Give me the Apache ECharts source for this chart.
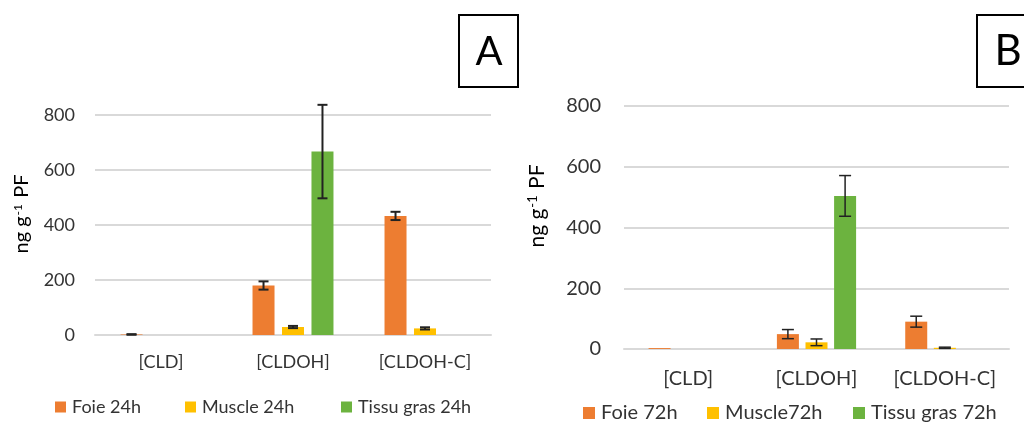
<!DOCTYPE html>
<html><head><meta charset="utf-8">
<script src="https://cdn.jsdelivr.net/npm/echarts@6/dist/echarts.min.js"></script>
<style>html,body{margin:0;padding:0;background:#fff}#c{width:1024px;height:422px}</style>
</head><body><div id="c"></div>
<script>
var categories = ['[CLD]', '[CLDOH]', '[CLDOH-C]'];
var yTicks = [0, 200, 400, 600, 800];
var namesA = ['Foie 24h', 'Muscle 24h', 'Tissu gras 24h'];
var namesB = ['Foie 72h', 'Muscle72h', 'Tissu gras 72h'];
var foie24 = [2, 180, 433];
var foie24Err = [1, 15, 15];
var muscle24 = [0, 29, 24];
var muscle24Err = [0, 4, 4];
var tissu24 = [0, 667, 0];
var tissu24Err = [0, 170, 0];
var foie72 = [3, 49, 90];
var foie72Err = [0, 15, 18];
var muscle72 = [0, 22, 4];
var muscle72Err = [0, 11, 2];
var tissu72 = [0, 504, 0];
var tissu72Err = [0, 67, 0];

var colors = ['#ED7D31', '#FFC000', '#6CB33F'];
var FONT = 'Lato, "Open Sans", sans-serif';
var TXT = '#333333';

function errSeries(grid, vals, errs, idx, bw, gapRatio, capW, lw) {
  var data = vals.map(function (v, i) { return [i, v, errs[i]]; });
  return {
    type: 'custom', xAxisIndex: grid, yAxisIndex: grid, z: 10, silent: true,
    data: data,
    renderItem: function (params, api) {
      var e = api.value(2);
      if (!e) return null;
      var c = api.value(0), v = api.value(1);
      var off = (bw + bw * gapRatio) * (idx - 1);
      var hi = api.coord([c, v + e]);
      var lo = api.coord([c, Math.max(v - e, 0)]);
      var x = hi[0] + off;
      var st = { stroke: '#222', lineWidth: lw };
      return { type: 'group', children: [
        { type: 'line', shape: { x1: x, y1: hi[1], x2: x, y2: lo[1] }, style: st },
        { type: 'line', shape: { x1: x - capW / 2, y1: hi[1], x2: x + capW / 2, y2: hi[1] }, style: st },
        { type: 'line', shape: { x1: x - capW / 2, y1: lo[1], x2: x + capW / 2, y2: lo[1] }, style: st }
      ]};
    }
  };
}

function barSeries(grid, name, vals, color, bw, gap) {
  return { type: 'bar', name: name, xAxisIndex: grid, yAxisIndex: grid, data: vals,
    barWidth: bw, barGap: gap, itemStyle: { color: color }, emphasis: { disabled: true } };
}

function legend(name, left, top, fs, sz) {
  return { data: [name], left: left, top: top, icon: 'rect', itemWidth: sz, itemHeight: sz,
    itemGap: 0, padding: 0, selectedMode: false,
    textStyle: { fontFamily: FONT, fontSize: fs, color: TXT, padding: [0, 0, 0, 1] } };
}

function xAx(grid, fs, margin) {
  return { type: 'category', gridIndex: grid, data: categories,
    axisLine: { lineStyle: { color: '#D9D9D9', width: 2 } }, axisTick: { show: false },
    axisLabel: { fontFamily: FONT, fontSize: fs, color: TXT, margin: margin, interval: 0, hideOverlap: false } };
}
function yAx(grid, fs, margin) {
  return { type: 'value', gridIndex: grid, min: yTicks[0], max: yTicks[yTicks.length - 1],
    interval: yTicks[1] - yTicks[0],
    axisLine: { show: false }, axisTick: { show: false },
    splitLine: { lineStyle: { color: '#D9D9D9', width: 2 } },
    axisLabel: { fontFamily: FONT, fontSize: fs, color: TXT, margin: margin } };
}

var chart = echarts.init(document.getElementById('c'));
var A_BW = 22, A_GAP = 0.34, B_BW = 22, B_GAP = 0.30;
chart.setOption({
  backgroundColor: '#fff',
  animation: false,
  grid: [
    { left: 95, right: 533, top: 115, bottom: 87 },
    { left: 624, right: 15, top: 106, bottom: 73 }
  ],
  xAxis: [xAx(0, 18, 18), xAx(1, 20, 20)],
  yAxis: [yAx(0, 18, 20), yAx(1, 20, 23)],
  legend: [
    legend(namesA[0], 55, 398, 18, 11),
    legend(namesA[1], 185, 398, 18, 11),
    legend(namesA[2], 341, 398, 18, 11),
    legend(namesB[0], 583, 403, 20, 12),
    legend(namesB[1], 707, 403, 20, 12),
    legend(namesB[2], 853, 403, 20, 12)
  ],
  graphic: [
    { type: 'rect', shape: { x: 459, y: 15, width: 59, height: 72 }, style: { fill: '#fff', stroke: '#000', lineWidth: 2 } },
    { type: 'text', x: 489, y: 52, style: { text: 'A', font: '40px ' + FONT, fill: '#000', align: 'center', verticalAlign: 'middle' } },
    { type: 'rect', shape: { x: 977, y: 15, width: 60, height: 72 }, style: { fill: '#fff', stroke: '#000', lineWidth: 2 } },
    { type: 'text', x: 1008, y: 51, style: { text: 'B', font: '42px ' + FONT, fill: '#000', align: 'center', verticalAlign: 'middle' } },
    { type: 'text', x: 22, y: 214, rotation: Math.PI / 2,
      style: { text: 'ng g{sup|-1} PF', font: '20px ' + FONT, fill: '#000', align: 'center', verticalAlign: 'middle',
        rich: { sup: { fontSize: 12, fontFamily: FONT, verticalAlign: 'top', fill: '#000', padding: [0, 1, 8, 1] } } } },
    { type: 'text', x: 537, y: 206, rotation: Math.PI / 2,
      style: { text: 'ng g{sup|-1} PF', font: '21px ' + FONT, fill: '#000', align: 'center', verticalAlign: 'middle',
        rich: { sup: { fontSize: 13, fontFamily: FONT, verticalAlign: 'top', fill: '#000', padding: [0, 1, 9, 1] } } } }
  ],
  series: [
    barSeries(0, namesA[0], foie24, colors[0], A_BW, '34%'),
    barSeries(0, namesA[1], muscle24, colors[1], A_BW, '34%'),
    barSeries(0, namesA[2], tissu24, colors[2], A_BW, '34%'),
    barSeries(1, namesB[0], foie72, colors[0], B_BW, '30%'),
    barSeries(1, namesB[1], muscle72, colors[1], B_BW, '30%'),
    barSeries(1, namesB[2], tissu72, colors[2], B_BW, '30%'),
    errSeries(0, foie24, foie24Err, 0, A_BW, A_GAP, 10, 2),
    errSeries(0, muscle24, muscle24Err, 1, A_BW, A_GAP, 10, 2),
    errSeries(0, tissu24, tissu24Err, 2, A_BW, A_GAP, 10, 2),
    errSeries(1, foie72, foie72Err, 0, B_BW, B_GAP, 12, 1.5),
    errSeries(1, muscle72, muscle72Err, 1, B_BW, B_GAP, 12, 1.5),
    errSeries(1, tissu72, tissu72Err, 2, B_BW, B_GAP, 12, 1.5)
  ]
});
</script></body></html>
